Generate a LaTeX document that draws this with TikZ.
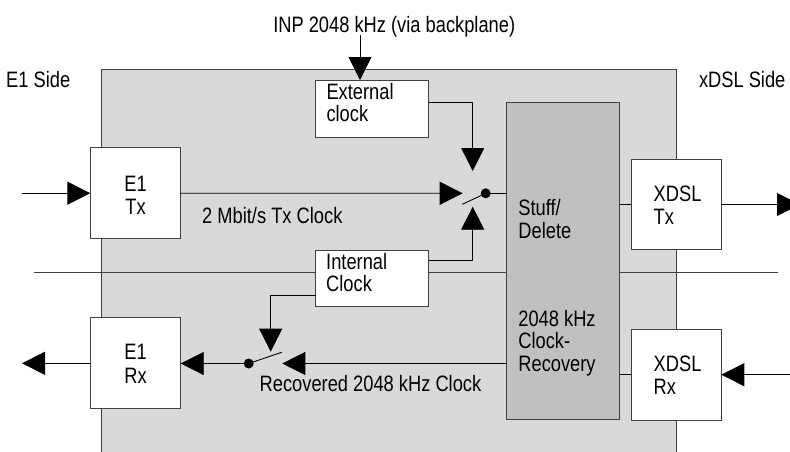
\documentclass[tikz,border=0pt]{standalone}
\usepackage{fontspec}
\setmainfont{Liberation Sans}[FakeStretch=0.82]
\usetikzlibrary{arrows.meta}
\definecolor{panelgray}{HTML}{D9D9D9}
\definecolor{darkgray}{HTML}{C0C0C0}
\definecolor{edge}{HTML}{404040}
\tikzset{
  lbl/.style={font=\fontsize{22.3}{23}\selectfont, inner sep=0pt, anchor=base west},
  clbl/.style={font=\fontsize{22.3}{23}\selectfont, inner sep=0pt, anchor=base},
  whitebox/.style={draw=edge, line width=1pt, fill=white, inner sep=0pt, outer sep=0pt},
  conn/.style={draw=black, line width=0.9pt},
  arr/.style={conn, -{Triangle[length=23pt,width=23pt]}},
  dot/.style={circle, fill=black, minimum size=10pt, inner sep=0pt},
}
\begin{document}
\begin{tikzpicture}[x=1pt,y=-1pt]
\useasboundingbox (0,0) rectangle (790,451);
\clip (0,0) rectangle (790,451);
% panel
\node[draw=edge, line width=1pt, fill=panelgray, inner sep=0pt, outer sep=0pt,
      minimum width=574.6pt, minimum height=401pt] (panel) at (389,269.5) {};
% bus line
\coordinate (busL) at (34,272.5);
\coordinate (busR) at (778,272.5);
\draw[draw=edge, line width=0.9pt] (busL) -- (busR);
% boxes
\node[whitebox, minimum width=113pt, minimum height=57pt] (ext) at (372.2,108.5) {};
\node[whitebox, minimum width=113pt, minimum height=56pt] (int) at (372.2,278) {};
\node[whitebox, minimum width=90.4pt, minimum height=91pt] (e1tx) at (135.5,193.2) {};
\node[whitebox, minimum width=90.4pt, minimum height=90.7pt] (e1rx) at (135.5,363.3) {};
\node[draw=edge, line width=1pt, fill=darkgray, inner sep=0pt, outer sep=0pt,
      minimum width=112.7pt, minimum height=317.3pt] (dsp) at (563.3,261.3) {};
\node[whitebox, minimum width=90pt, minimum height=90.4pt] (xtx) at (676.3,204.5) {};
\node[whitebox, minimum width=90pt, minimum height=90.7pt] (xrx) at (676.3,374.7) {};
% texts
\node[clbl] (tinp) at (394.2,32.3) {INP 2048 kHz (via backplane)};
\node[lbl] (te1side) at (6,87.3) {E1 Side};
\node[lbl] (txside) at (698.8,87.3) {xDSL Side};
\node[lbl] (text1) at (326.3,99) {External};
\node[lbl] (text2) at (326.3,121.7) {clock};
\node[lbl] (tint1) at (326,269.3) {Internal};
\node[lbl] (tint2) at (326,291.7) {Clock};
\node[clbl] (te1tx1) at (135.5,191.7) {E1};
\node[clbl] (te1tx2) at (135.5,214.3) {Tx};
\node[clbl] (te1rx1) at (135.5,359.3) {E1};
\node[clbl] (te1rx2) at (135.5,383.3) {Rx};
\node[lbl] (txtx1) at (653.5,201) {XDSL};
\node[lbl] (txtx2) at (653.5,224) {Tx};
\node[lbl] (txrx1) at (653.5,371) {XDSL};
\node[lbl] (txrx2) at (653.5,394.3) {Rx};
\node[lbl] (tsd1) at (518.2,215) {Stuff/};
\node[lbl] (tsd2) at (518.2,238) {Delete};
\node[lbl] (tcr1) at (518.2,326) {2048 kHz};
\node[lbl] (tcr2) at (518.2,348.7) {Clock-};
\node[lbl] (tcr3) at (518.2,371) {Recovery};
\node[lbl] (ttxclk) at (202,223.3) {2 Mbit/s Tx Clock};
\node[lbl] (trxclk) at (259.5,391.7) {Recovered 2048 kHz Clock};
% switches
\node[dot] (sw1) at (485.7,193.3) {};
\node[dot] (sw2) at (248.7,363.5) {};
\coordinate (sw1blade) at (462.3,204.3);
\coordinate (sw2blade) at (281.7,352.3);
\coordinate (sw1in) at (462.7,193.3);
\coordinate (sw1top) at (472.7,171);
\coordinate (sw1bot) at (472.7,206.7);
\coordinate (sw2in) at (282.3,363.5);
\coordinate (sw2top) at (270.7,351.7);
\coordinate (inpc) at (360,35);
\coordinate (e1in) at (22,193.2);
\coordinate (e1out) at (22,363.3);
\coordinate (xout) at (800,204.5);
\coordinate (xin) at (795,374.7);
% connectors
\draw[arr] (inpc) -- (inpc |- ext.north);
\draw[arr] (e1in) -- (e1tx.west);
\draw[arr] (e1tx.east) -- (sw1in);
\draw[conn] (sw1.center) -- (sw1blade);
\draw[conn] (sw1.center) -- (sw1.center -| dsp.west);
\draw[arr] ([yshift=5.8pt]ext.east) -| (sw1top);
\draw[arr] ([yshift=17.3pt]int.east) -| (sw1bot);
\draw[arr] ([yshift=-17pt]int.west) -| (sw2top);
\draw[conn] (sw2.center) -- (sw2blade);
\draw[arr] (sw2.center -| dsp.west) -- (sw2in);
\draw[arr] (sw2.center) -- (sw2.center -| e1rx.east);
\draw[arr] (e1rx.west) -- (e1out);
\draw[conn] (dsp.east |- xtx.west) -- (xtx.west);
\draw[arr] (xtx.east) -- (xout);
\draw[arr] (xin) -- (xrx.east);
\draw[conn] (dsp.east |- xrx.west) -- (xrx.west);
\end{tikzpicture}
\end{document}
